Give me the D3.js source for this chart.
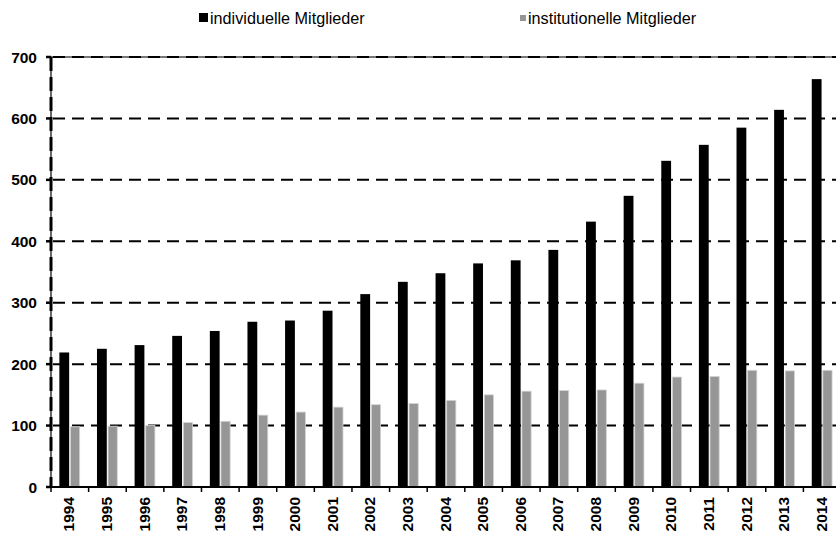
<!DOCTYPE html>
<html lang="de">
<head>
  <meta charset="UTF-8">
  <title>Mitglieder 1994-2014</title>
  <script src="https://d3js.org/d3.v7.min.js"></script>
  <style>
    body {
      margin: 0;
      background: #fff;
      font-family: "Liberation Sans", Arial, sans-serif;
    }
    svg { display: block; }
    .grid {
      stroke: #000;
      stroke-width: 2px;
      stroke-dasharray: 12 7;
    }
    .lab {
      font-size: 15.5px;
      font-weight: bold;
      fill: #000;
    }
    .leg {
      font-size: 16.2px;
      fill: #000;
    }
  </style>
</head>
<body>
  <svg width="836" height="535"></svg>
  <script>
    const years = ["1994", "1995", "1996", "1997", "1998", "1999", "2000", "2001", "2002", "2003", "2004",
                   "2005", "2006", "2007", "2008", "2009", "2010", "2011", "2012", "2013", "2014"];
    const individuell = [219, 225, 231, 246, 254, 269, 271, 287, 314, 334, 348,
                         364, 369, 386, 432, 474, 531, 557, 585, 614, 664];
    const institutionell = [98, 99, 100, 105, 107, 117, 122, 130, 134, 136, 141,
                            150, 156, 157, 158, 169, 179, 180, 190, 189, 190];
    const seriesNames = ["individuelle Mitglieder", "institutionelle Mitglieder"];
    const yTicks = [0, 100, 200, 300, 400, 500, 600, 700];

    const svg = d3.select("svg");
    const plotLeft = 51, plotBottom = 487, plotTop = 57;
    const band = 37.62;

    const x = d3.scaleBand()
      .domain(years)
      .range([plotLeft, plotLeft + band * years.length]);
    const y = d3.scaleLinear().domain([0, 700]).range([plotBottom, plotTop]);

    const barW = 9.8, gap = 1.3;
    const groupOff = (band - (2 * barW + gap)) / 2;

    // top border under the 700 dashes
    svg.append("line")
      .attr("x1", plotLeft).attr("x2", 836)
      .attr("y1", y(700)).attr("y2", y(700))
      .attr("stroke", "#777").attr("stroke-width", 2);

    // grid lines
    svg.selectAll(".grid")
      .data(yTicks.filter(t => t > 0))
      .enter()
      .append("line")
      .attr("class", "grid")
      .attr("x1", plotLeft + 2)
      .attr("x2", 836)
      .attr("y1", d => y(d))
      .attr("y2", d => y(d));

    // bars
    svg.selectAll(".bar-ind")
      .data(years)
      .enter()
      .append("rect")
      .attr("x", d => x(d) + groupOff)
      .attr("width", barW)
      .attr("y", (d, i) => y(individuell[i]))
      .attr("height", (d, i) => plotBottom - y(individuell[i]))
      .attr("fill", "#000");

    svg.selectAll(".bar-inst")
      .data(years)
      .enter()
      .append("rect")
      .attr("x", d => x(d) + groupOff + barW + gap)
      .attr("width", barW - 0.6)
      .attr("y", (d, i) => y(institutionell[i]))
      .attr("height", (d, i) => plotBottom - y(institutionell[i]))
      .attr("fill", "#969696")
      .attr("stroke", "#d4d4d4")
      .attr("stroke-width", 0.8);

    // y axis: thin line with heavy dashes on it
    svg.append("line")
      .attr("x1", plotLeft).attr("x2", plotLeft)
      .attr("y1", plotTop).attr("y2", plotBottom)
      .attr("stroke", "#000").attr("stroke-width", 1.2);
    svg.append("line")
      .attr("x1", plotLeft).attr("x2", plotLeft)
      .attr("y1", plotTop).attr("y2", plotBottom)
      .attr("stroke", "#000").attr("stroke-width", 3)
      .attr("stroke-dasharray", "14 6");

    svg.selectAll(".ytick")
      .data(yTicks)
      .enter()
      .append("line")
      .attr("x1", plotLeft - 5).attr("x2", plotLeft)
      .attr("y1", d => y(d)).attr("y2", d => y(d))
      .attr("stroke", "#000").attr("stroke-width", 2.5);

    svg.selectAll(".ylab")
      .data(yTicks)
      .enter()
      .append("text")
      .attr("class", "lab")
      .attr("text-anchor", "end")
      .attr("x", 37)
      .attr("y", d => y(d))
      .attr("dy", "0.36em")
      .text(d => d);

    // x axis
    svg.append("line")
      .attr("x1", plotLeft).attr("x2", 836)
      .attr("y1", plotBottom).attr("y2", plotBottom)
      .attr("stroke", "#000").attr("stroke-width", 2);

    svg.selectAll(".xtick")
      .data(years)
      .enter()
      .append("line")
      .attr("x1", d => x(d)).attr("x2", d => x(d))
      .attr("y1", plotBottom).attr("y2", plotBottom + 5)
      .attr("stroke", "#000").attr("stroke-width", 1.5);

    svg.selectAll(".xlab")
      .data(years)
      .enter()
      .append("text")
      .attr("class", "lab")
      .attr("text-anchor", "end")
      .attr("dy", "0.36em")
      .attr("transform", d => `translate(${x(d) + band / 2 - 1},497) rotate(-90)`)
      .text(d => d);

    // legend
    const leg = svg.append("g");
    leg.append("rect").attr("x", 199).attr("y", 13).attr("width", 9).attr("height", 9).attr("fill", "#000");
    leg.append("text").attr("class", "leg")
      .attr("x", 210).attr("y", 23.5)
      .text(seriesNames[0]);
    leg.append("rect").attr("x", 520).attr("y", 15).attr("width", 6).attr("height", 6).attr("fill", "#969696");
    leg.append("text").attr("class", "leg")
      .attr("x", 528).attr("y", 23.5)
      .text(seriesNames[1]);
  </script>
</body>
</html>
